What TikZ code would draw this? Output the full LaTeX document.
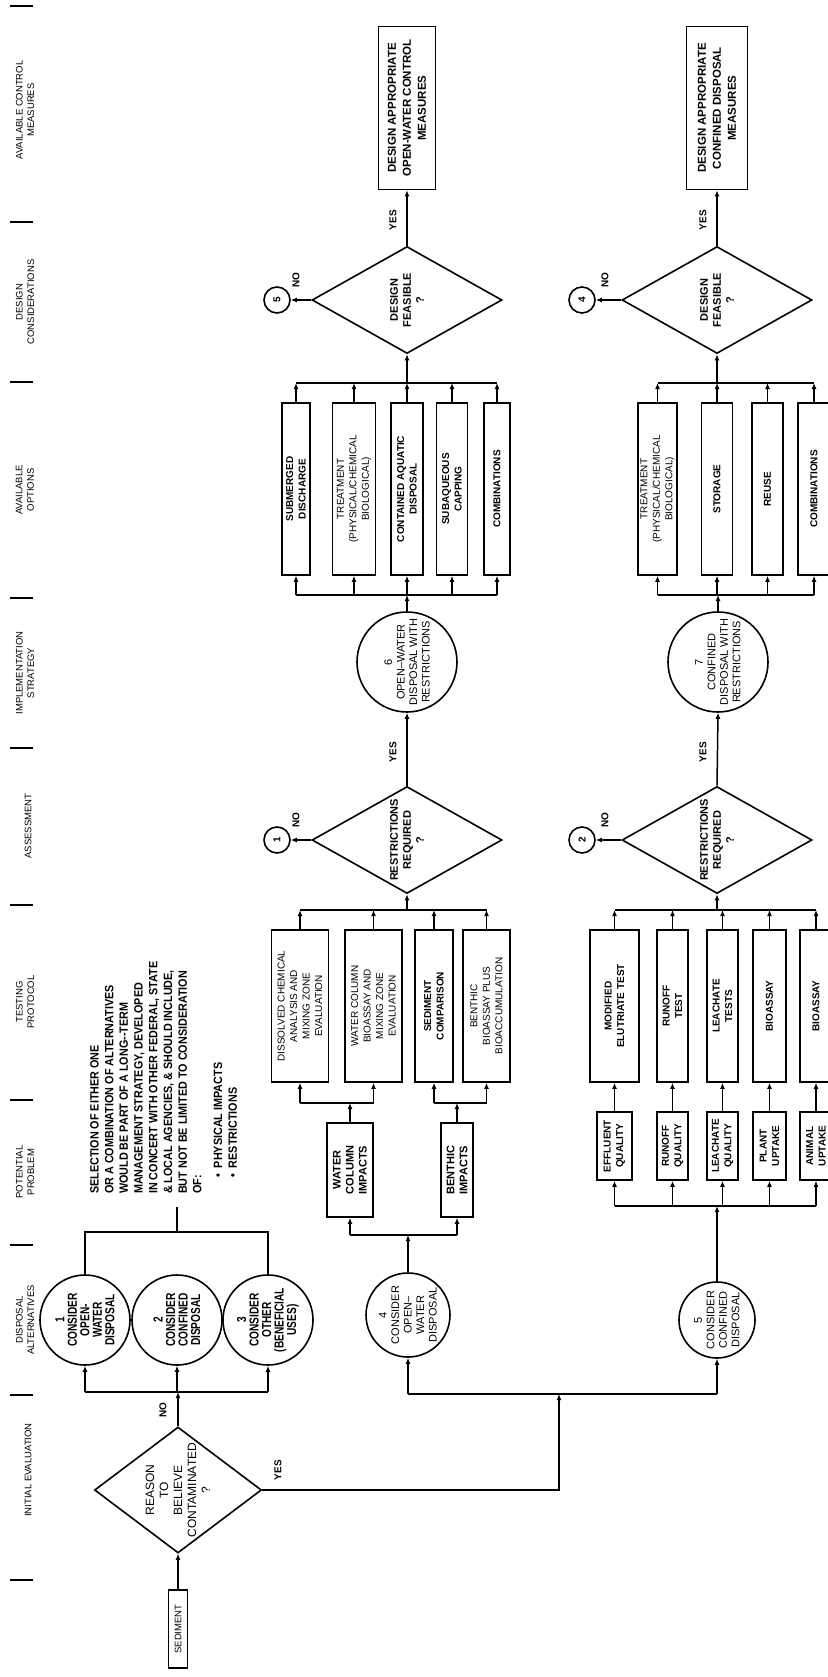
\documentclass[tikz,border=0pt]{standalone}
\usepackage{fontspec}
\setmainfont{Liberation Sans}
\newfontfamily\cnd{Liberation Sans}[FakeStretch=0.78]
\newfontfamily\cndb{Liberation Sans}[FakeStretch=0.9]
\usetikzlibrary{shapes.geometric,arrows.meta}
\begin{document}
\begin{tikzpicture}[x=1pt,y=1pt,
  ln/.style={line width=1.5pt},
  arr/.style={line width=1.5pt,-{Latex[length=6pt,width=5pt]}},
  box/.style={draw,line width=1.6pt,rotate=90,align=center,inner sep=1pt,font=\fontsize{10}{12.5}\selectfont},
  bbox/.style={box,font=\bfseries\fontsize{10}{12.5}\selectfont},
  dia/.style={draw,diamond,line width=1.6pt,inner sep=0pt},
  circ/.style={draw,circle,line width=1.6pt,inner sep=0pt,rotate=90},
  txt/.style={rotate=90,align=center,inner sep=0pt,font=\fontsize{10}{12}\selectfont},
  btxt/.style={txt,font=\bfseries\fontsize{10}{12}\selectfont},
  ctxt/.style={txt,font=\cnd\bfseries\fontsize{13}{12.5}\selectfont},
  hdr/.style={rotate=90,align=center,inner sep=0pt,font=\fontsize{9.5}{11.5}\selectfont},
  conn/.style={circ,minimum size=26pt,font=\bfseries\fontsize{10}{11}\selectfont},
  ctl/.style={bbox,minimum width=163pt,font=\bfseries\fontsize{11.5}{15}\selectfont},
  dtxt/.style={btxt,font=\bfseries\fontsize{11}{13}\selectfont},
  ctx/.style={txt,font=\fontsize{11}{12.5}\selectfont},
]
\useasboundingbox (0,0) rectangle (827,-1677);
\fill[white] (0,0) rectangle (827,-1677);

% ---------- header column ----------
\node[hdr] (h1) at (25,-110) {AVAILABLE CONTROL\\MEASURES};
\node[hdr] (h2) at (25,-302) {DESIGN\\CONSIDERATIONS};
\node[hdr] (h3) at (25,-490) {AVAILABLE\\OPTIONS};
\node[hdr] (h4) at (25,-673) {IMPLEMENTATION\\STRATEGY};
\node[hdr] (h5) at (28,-826) {ASSESSMENT};
\node[hdr] (h6) at (25,-1002) {TESTING\\PROTOCOL};
\node[hdr] (h7) at (25,-1172) {POTENTIAL\\PROBLEM};
\node[hdr] (h8) at (25,-1320) {DISPOSAL\\ALTERNATIVES};
\node[hdr] (h9) at (28,-1470) {INITIAL EVALUATION};
\foreach \yy in {6,222,382,598,748,905,1100,1245,1395,1580}
  {\draw[line width=2.4pt] (10,-\yy) -- (33,-\yy);}

% ---------- open-water branch ----------
\node[ctl,minimum height=57pt] (ctA) at (407,-108) {DESIGN APPROPRIATE\\OPEN-WATER CONTROL\\MEASURES};
\node[dia,minimum width=190pt,minimum height=107pt] (dfA) at (407,-300) {};
\node[dtxt] (dfAt) at (dfA) {DESIGN\\FEASIBLE\\?};
\node[btxt] (yA1) at (393,-220) {YES};
\node[conn] (k5) at (277,-300) {5};
\node[btxt] (nA1) at (296,-280) {NO};
\draw[arr] (dfA.north) -- (ctA.west);
\draw[arr] (dfA.west) -- (k5);

\node[bbox,minimum width=172pt,minimum height=28pt] (oA1) at (296,-489) {SUBMERGED\\DISCHARGE};
\node[box,minimum width=172pt,minimum height=43pt] (oA2) at (354,-489) {TREATMENT\\(PHYSICAL/CHEMICAL\\BIOLOGICAL)};
\node[bbox,minimum width=172pt,minimum height=32pt] (oA3) at (407,-489) {CONTAINED AQUATIC\\DISPOSAL};
\node[bbox,minimum width=172pt,minimum height=31pt] (oA4) at (452,-489) {SUBAQUEOUS\\CAPPING};
\node[bbox,minimum width=172pt,minimum height=26pt] (oA5) at (497,-489) {COMBINATIONS};
\coordinate (obA) at (0,-383);
\coordinate (ocA) at (0,-595);
\draw[ln] (oA1.east |- obA) -- (oA5.east |- obA);
\draw[ln] (oA1.west |- ocA) -- (oA5.west |- ocA);
\foreach \n in {oA1,oA2,oA3,oA4,oA5}
  {\draw[arr] (\n.east) -- (\n.east |- obA);
   \draw[arr] (\n.west |- ocA) -- (\n.west);}
\draw[arr] (dfA.south |- obA) -- (dfA.south);

\node[circ,minimum size=100pt] (c6) at (407,-662) {};
\node[ctx] (c6t) at (c6) {6\\OPEN--WATER\\DISPOSAL WITH\\RESTRICTIONS};
\draw[arr] (c6.east) -- (c6.east |- ocA);

\node[dia,minimum width=190pt,minimum height=107pt] (rqA) at (407,-840) {};
\node[dtxt] (rqAt) at (rqA) {RESTRICTIONS\\REQUIRED\\?};
\node[btxt] (yA2) at (393,-752) {YES};
\draw[arr] (rqA.north) -- (c6.west);
\node[conn] (k1) at (277,-840) {1};
\node[btxt] (nA2) at (296,-820) {NO};
\draw[arr] (rqA.west) -- (k1);

\node[box,minimum width=152pt,minimum height=57pt] (tA1) at (300,-1006) {DISSOLVED CHEMICAL\\ANALYSIS AND\\MIXING ZONE\\EVALUATION};
\node[box,minimum width=152pt,minimum height=57pt] (tA2) at (373.5,-1006) {WATER COLUMN\\BIOASSAY AND\\MIXING ZONE\\EVALUATION};
\node[bbox,minimum width=152pt,minimum height=38pt] (tA3) at (434,-1006) {SEDIMENT\\COMPARISON};
\node[box,minimum width=152pt,minimum height=47pt] (tA4) at (486.5,-1006) {BENTHIC\\BIOASSAY PLUS\\BIOACCUMULATION};
\coordinate (tbA) at (0,-910);
\draw[ln] (tA1.east |- tbA) -- (tA4.east |- tbA);
\foreach \n in {tA1,tA2,tA3,tA4}
  {\draw[arr] (\n.east) -- (\n.east |- tbA);}
\draw[arr] (rqA.south |- tbA) -- (rqA.south);

\node[bbox,minimum width=94pt,minimum height=46pt,font=\bfseries\fontsize{11}{13}\selectfont] (pA1) at (350,-1170) {WATER\\COLUMN\\IMPACTS};
\node[bbox,minimum width=94pt,minimum height=32pt,font=\bfseries\fontsize{11}{13}\selectfont] (pA2) at (457,-1170) {BENTHIC\\IMPACTS};
\coordinate (tcA) at (0,-1103);
\draw[ln] (tA1.west |- tcA) -- (tA2.west |- tcA);
\draw[ln] (tA3.west |- tcA) -- (tA4.west |- tcA);
\foreach \n in {tA1,tA2,tA3,tA4}
  {\draw[arr] (\n.west |- tcA) -- (\n.west);}
\draw[arr] (pA1.east) -- (pA1.east |- tcA);
\draw[arr] (pA2.east) -- (pA2.east |- tcA);
\coordinate (pcA) at (0,-1235);
\draw[ln] (pA1.west |- pcA) -- (pA2.west |- pcA);
\draw[arr] (pA1.west |- pcA) -- (pA1.west);
\draw[arr] (pA2.west |- pcA) -- (pA2.west);

\node[circ,minimum size=84pt] (c4) at (408,-1315) {};
\node[ctx] (c4t) at (c4) {4\\CONSIDER\\OPEN--\\WATER\\DISPOSAL};
\draw[arr] (c4.east) -- (c4.east |- pcA);

% ---------- confined branch ----------
\node[ctl,minimum height=61pt] (ctB) at (717,-108) {DESIGN APPROPRIATE\\CONFINED DISPOSAL\\MEASURES};
\node[dia,minimum width=190pt,minimum height=107pt] (dfB) at (717,-300) {};
\node[dtxt] (dfBt) at (dfB) {DESIGN\\FEASIBLE\\?};
\node[btxt] (yB1) at (703,-220) {YES};
\node[conn] (k4) at (582,-300) {4};
\node[btxt] (nB1) at (605,-280) {NO};
\draw[arr] (dfB.north) -- (ctB.west);
\draw[arr] (dfB.west) -- (k4);

\node[box,minimum width=172pt,minimum height=39pt] (oB1) at (657.5,-489) {TREATMENT\\(PHYSICAL/CHEMICAL\\BIOLOGICAL)};
\node[bbox,minimum width=172pt,minimum height=31pt] (oB2) at (717,-489) {STORAGE};
\node[bbox,minimum width=172pt,minimum height=31pt] (oB3) at (767.5,-489) {REUSE};
\node[bbox,minimum width=172pt,minimum height=32pt] (oB4) at (814,-489) {COMBINATIONS};
\draw[ln] (oB1.east |- obA) -- (oB4.east |- obA);
\draw[ln] (oB1.west |- ocA) -- (oB4.west |- ocA);
\foreach \n in {oB1,oB2,oB3,oB4}
  {\draw[arr] (\n.east) -- (\n.east |- obA);
   \draw[arr] (\n.west |- ocA) -- (\n.west);}
\draw[arr] (dfB.south |- obA) -- (dfB.south);

\node[circ,minimum size=100pt] (c7) at (718,-662) {};
\node[ctx] (c7t) at (c7) {7\\CONFINED\\DISPOSAL WITH\\RESTRICTIONS};
\draw[arr] (c7.east) -- (c7.east |- ocA);

\node[dia,minimum width=190pt,minimum height=107pt] (rqB) at (717,-840) {};
\node[dtxt] (rqBt) at (rqB) {RESTRICTIONS\\REQUIRED\\?};
\node[btxt] (yB2) at (703,-752) {YES};
\draw[arr] (rqB.north) -- (c7.west);
\node[conn] (k2) at (582,-840) {2};
\node[btxt] (nB2) at (605,-820) {NO};
\draw[arr] (rqB.west) -- (k2);

\node[bbox,minimum width=152pt,minimum height=49pt] (uB1) at (614.5,-1006) {MODIFIED\\ELUTRIATE TEST};
\node[bbox,minimum width=152pt,minimum height=31pt] (uB2) at (672.5,-1006) {RUNOFF\\TEST};
\node[bbox,minimum width=152pt,minimum height=31pt] (uB3) at (722.5,-1006) {LEACHATE\\TESTS};
\node[bbox,minimum width=152pt,minimum height=33pt] (uB4) at (769.5,-1006) {BIOASSAY};
\node[bbox,minimum width=152pt,minimum height=32pt] (uB5) at (816,-1006) {BIOASSAY};
\draw[ln] (uB1.east |- tbA) -- (uB5.east |- tbA);
\foreach \n in {uB1,uB2,uB3,uB4,uB5}
  {\draw[arr] (\n.east) -- (\n.east |- tbA);}
\draw[arr] (rqB.south |- tbA) -- (rqB.south);

\node[bbox,minimum width=68pt,minimum height=35pt] (pB1) at (614.5,-1146) {EFFLUENT\\QUALITY};
\node[bbox,minimum width=68pt,minimum height=31pt] (pB2) at (672.5,-1146) {RUNOFF\\QUALITY};
\node[bbox,minimum width=68pt,minimum height=31pt] (pB3) at (722.5,-1146) {LEACHATE\\QUALITY};
\node[bbox,minimum width=68pt,minimum height=33pt] (pB4) at (769.5,-1146) {PLANT\\UPTAKE};
\node[bbox,minimum width=68pt,minimum height=32pt] (pB5) at (816,-1146) {ANIMAL\\UPTAKE};
\draw[arr] (pB1.east) -- (uB1.west);
\draw[arr] (pB2.east) -- (uB2.west);
\draw[arr] (pB3.east) -- (uB3.west);
\draw[arr] (pB4.east) -- (uB4.west);
\draw[arr] (pB5.east) -- (uB5.west);
\coordinate (qbB) at (0,-1206);
\draw[ln] (pB1.west |- qbB) -- (pB5.west |- qbB);
\foreach \n in {pB1,pB2,pB3,pB4,pB5}
  {\draw[arr] (\n.west |- qbB) -- (\n.west);}

\node[circ,minimum size=76pt] (c5) at (717,-1320) {};
\node[ctx] (c5t) at (c5) {5\\CONSIDER\\CONFINED\\DISPOSAL};
\draw[arr] (c5.east) -- (c5.east |- qbB);

% ---------- disposal alternatives ----------
\node[circ,minimum size=90pt] (a1) at (85,-1320) {};
\node[ctxt] (a1t) at (a1) {1\\CONSIDER\\OPEN-\\WATER\\DISPOSAL};
\node[circ,minimum size=90pt] (a2) at (177,-1320) {};
\node[ctxt] (a2t) at (a2) {2\\CONSIDER\\CONFINED\\DISPOSAL};
\node[circ,minimum size=90pt] (a3) at (268,-1320) {};
\node[ctxt] (a3t) at (a3) {3\\CONSIDER\\OTHER\\(BENEFICIAL\\USES)};
\coordinate (abA) at (0,-1232);
\draw[ln] (a1.east) -- (a1.east |- abA) -- (a3.east |- abA) -- (a3.east);
\coordinate (stem) at (177,-1207);
\draw[ln] (stem |- abA) -- (stem);

\node[rotate=90,anchor=north west,align=left,inner sep=0pt,font=\cndb\bfseries\fontsize{12}{14.7}\selectfont] (note) at (90,-1194)
 {SELECTION OF EITHER ONE\\
  OR A COMBINATION OF ALTERNATIVES\\
  WOULD BE PART OF A LONG--TERM\\
  MANAGEMENT STRATEGY, DEVELOPED\\
  IN CONCERT WITH OTHER FEDERAL, STATE\\
  \& LOCAL AGENCIES, \& SHOULD INCLUDE,\\
  BUT NOT BE LIMITED TO CONSIDERATION\\
  OF:\\[6pt]
  \hspace*{16pt}\textbullet\ \ PHYSICAL IMPACTS\\
  \hspace*{16pt}\textbullet\ \ RESTRICTIONS};

% ---------- initial evaluation ----------
\node[dia,minimum width=167pt,minimum height=126pt] (rb) at (178,-1490) {};
\node[txt,font=\fontsize{12}{14}\selectfont] (rbt) at (rb) {REASON\\TO\\BELIEVE\\CONTAMINATED\\?};
\node[box,minimum width=78pt,minimum height=19pt,font=\fontsize{9.5}{11}\selectfont] (sed) at (178,-1629) {SEDIMENT};
\draw[arr] (sed.east) -- (rb.south);
\coordinate (nbA) at (0,-1392);
\draw[arr] (rb.north) -- (rb.north |- nbA);
\draw[ln] (a1.west |- nbA) -- (a3.west |- nbA);
\foreach \n in {a1,a2,a3}
  {\draw[arr] (\n.west |- nbA) -- (\n.west);}
\node[btxt] (nB) at (163,-1410) {NO};
\node[btxt] (yB) at (278,-1470) {YES};
\coordinate (yturn) at (559,-1394);
\draw[arr] (rb.east) -| (yturn);
\coordinate (mbA) at (0,-1394);
\draw[ln] (c4.west |- mbA) -- (c5.west |- mbA);
\draw[arr] (c4.west |- mbA) -- (c4.west);
\draw[arr] (c5.west |- mbA) -- (c5.west);
\end{tikzpicture}
\end{document}
